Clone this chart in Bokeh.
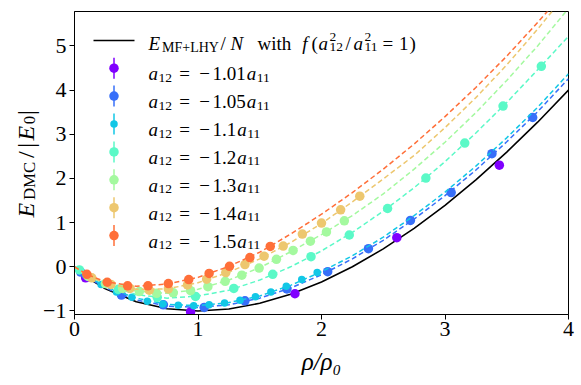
import math
from bokeh.plotting import figure
from bokeh.models import Range1d, Label
from bokeh.layouts import row
from bokeh.embed import file_html
from bokeh.resources import INLINE

# ---------------- data ----------------
TICKS_X = [0, 1, 2, 3, 4]
TICKS_Y = [-1, 0, 1, 2, 3, 4, 5]

# theory curve E_MF+LHY/N (black)
X_FIT = [0, 0.1, 0.25, 0.5, 0.75, 1.0, 1.25, 1.5, 1.75, 2.0, 2.25, 2.5, 2.75, 3.0, 3.25, 3.5, 3.75, 4.0]
E_THEORY = [0, -0.237, -0.5, -0.793, -0.951, -1.0, -0.955, -0.826, -0.620, -0.343, 0.0, 0.406, 0.871, 1.392, 1.968, 2.596, 3.274, 4.0]

# dashed fit curves
FIT_105 = [0, -0.23, -0.48, -0.75, -0.89, -0.92, -0.86, -0.71, -0.48, -0.18, 0.18, 0.60, 1.08, 1.61, 2.19, 2.83, 3.51, 4.26]
FIT_110 = [0, -0.20, -0.45, -0.71, -0.85, -0.88, -0.81, -0.66, -0.42, -0.11, 0.25, 0.67, 1.16, 1.69, 2.28, 2.92, 3.61, 4.37]
FIT_120 = [0, -0.15, -0.39, -0.63, -0.71, -0.66, -0.53, -0.30, 0.00, 0.36, 0.78, 1.26, 1.79, 2.38, 3.03, 3.72, 4.46, 5.22]
FIT_130 = [0, -0.20, -0.38, -0.55, -0.60, -0.51, -0.30, -0.02, 0.34, 0.73, 1.16, 1.65, 2.21, 2.82, 3.49, 4.22, 5.00, 5.85]
FIT_140 = [0, -0.19, -0.37, -0.51, -0.50, -0.36, -0.12, 0.18, 0.55, 0.98, 1.47, 1.99, 2.52, 3.15, 3.83, 4.57, 5.38, 6.24]
FIT_150 = [0, -0.17, -0.34, -0.44, -0.39, -0.24, 0.01, 0.33, 0.74, 1.19, 1.68, 2.21, 2.78, 3.40, 4.06, 4.77, 5.53, 6.32]

# DMC points
P101_X = [0.09, 0.94, 1.785, 2.61, 3.44]
P101_Y = [-0.25, -1.02, -0.61, 0.66, 2.30]
P105_X = [0.05, 0.38, 0.72, 1.05, 1.38, 1.72, 2.05, 2.38, 2.72, 3.05, 3.38, 3.71]
P105_Y = [-0.12, -0.64, -0.86, -0.92, -0.77, -0.50, -0.11, 0.41, 1.05, 1.68, 2.56, 3.38]
P110_X = [0.09, 0.215, 0.34, 0.465, 0.59, 0.715, 0.84, 0.965, 1.09, 1.215, 1.34, 1.465, 1.59, 1.715, 1.84, 1.965]
P110_Y = [-0.19, -0.40, -0.57, -0.69, -0.78, -0.84, -0.87, -0.88, -0.86, -0.82, -0.76, -0.68, -0.57, -0.44, -0.29, -0.13]
P120_X = [0.04, 0.355, 0.67, 0.98, 1.29, 1.605, 1.915, 2.225, 2.535, 2.845, 3.16, 3.47, 3.78]
P120_Y = [-0.07, -0.51, -0.69, -0.67, -0.49, -0.17, 0.23, 0.72, 1.32, 2.01, 2.80, 3.64, 4.54]
P130_X = [0.11, 0.25, 0.39, 0.525, 0.665, 0.80, 0.94, 1.08, 1.22, 1.355, 1.495, 1.635, 1.77, 1.91, 2.04, 2.185]
P130_Y = [-0.22, -0.38, -0.49, -0.56, -0.60, -0.59, -0.54, -0.45, -0.33, -0.19, -0.03, 0.17, 0.37, 0.58, 0.79, 1.04]
P140_X = [0.14, 0.295, 0.45, 0.605, 0.76, 0.915, 1.07, 1.225, 1.38, 1.535, 1.69, 1.845, 2.0, 2.155, 2.31]
P140_Y = [-0.25, -0.40, -0.49, -0.53, -0.50, -0.41, -0.28, -0.13, 0.05, 0.24, 0.47, 0.74, 0.99, 1.29, 1.60]
P150_X = [0.10, 0.265, 0.43, 0.595, 0.76, 0.925, 1.09, 1.255, 1.42, 1.585]
P150_Y = [-0.17, -0.35, -0.43, -0.43, -0.38, -0.29, -0.15, 0.01, 0.21, 0.46]

SERIES_LABELS = ["1.01", "1.05", "1.1", "1.2", "1.3", "1.4", "1.5"]

# ---------------- styles ----------------
COLORS = ["#8000ff", "#376ff9", "#12c7e6", "#5bf9c7", "#a4f99f", "#edc76f", "#ff6f39"]
SIZES = [9.5, 9.5, 7.5, 9.5, 9.5, 9.5, 9.5]
FONT = "Liberation Serif"

series = [
    (P101_X, P101_Y, None),
    (P105_X, P105_Y, FIT_105),
    (P110_X, P110_Y, FIT_110),
    (P120_X, P120_Y, FIT_120),
    (P130_X, P130_Y, FIT_130),
    (P140_X, P140_Y, FIT_140),
    (P150_X, P150_Y, FIT_150),
]

YL_W = 40                 # width of the y-label strip
FW, FH = 494, 303
BL, BT, BR, BB = 33, 11, 14, 63
TOTAL_H = BT + FH + BB

p = figure(frame_width=FW, frame_height=FH,
           min_border_left=BL, min_border_right=BR, min_border_top=BT, min_border_bottom=BB,
           x_range=Range1d(0, 4), y_range=Range1d(-1.08, 5.78),
           output_backend="svg", toolbar_location=None)
# pixel ranges for legend layout (frame-relative, y downward)
p.extra_x_ranges = {"px": Range1d(0, FW)}
p.extra_y_ranges = {"py": Range1d(FH, 0)}

p.grid.visible = False
p.background_fill_color = "white"
p.border_fill_color = "white"
p.outline_line_color = "black"
p.outline_line_width = 1

for ax in (p.xaxis[0], p.yaxis[0]):
    ax.axis_line_color = "black"
    ax.major_tick_line_color = "black"
    ax.major_tick_out = 5
    ax.major_tick_in = 0
    ax.minor_tick_line_color = None
    ax.major_label_text_font = FONT
    ax.major_label_text_font_size = "22px"
    ax.major_label_text_color = "black"
p.xaxis.ticker = TICKS_X
p.yaxis.ticker = TICKS_Y
p.xaxis.major_label_standoff = 2
p.yaxis.major_label_standoff = 3
p.yaxis.major_label_overrides = {t: ("\u2212" + str(abs(t)) if t < 0 else str(t)) for t in TICKS_Y}
p.xaxis.major_label_overrides = {t: str(t) for t in TICKS_X}

p.xaxis.axis_label = "\u03c1/\u03c1\u2080"
p.xaxis.axis_label_text_font = FONT
p.xaxis.axis_label_text_font_size = "25px"
p.xaxis.axis_label_text_font_style = "italic"
p.xaxis.axis_label_text_color = "black"
p.xaxis.axis_label_standoff = 9

# theory line
p.line(X_FIT, E_THEORY, line_color="black", line_width=1.6)

# fits and points
for (sx, sy, fit), c, s in zip(series, COLORS, SIZES):
    if fit is not None:
        p.line(X_FIT, fit, line_color=c, line_width=1.5, line_dash="5 3")
    p.scatter(sx, sy, size=s, fill_color=c, line_color=None)

# ---------------- legend (manual, pixel layout) ----------------
LEG_LINE_X0, LEG_LINE_X1 = 19, 60
LEG_MARK_X = 39.5
LEG_TEXT_X = 75
ROW0_Y = 29
ROW1_Y = 56.7
ROW_DY = 27.9
MAIN = "19px"
SCRIPT = "13.5px"

def lab(fig, text, x, y, size=MAIN, italic=False, angle=0.0, ox=BL, oy=BT):
    fig.add_layout(Label(x=x + ox, y=y + oy, x_units="canvas", y_units="canvas",
                         text=text, text_font=FONT, text_font_size=size,
                         text_font_style="italic" if italic else "normal",
                         text_color="black", text_align="left", text_baseline="alphabetic",
                         angle=angle))

p.line([LEG_LINE_X0, LEG_LINE_X1], [ROW0_Y, ROW0_Y], x_range_name="px", y_range_name="py",
       line_color="black", line_width=1.6)
b0 = ROW0_Y + 2.7
lab(p, "E", 75, b0, italic=True)
lab(p, "MF+LHY", 88.5, b0 + 4, size="14px")
lab(p, "/", 147, b0)
lab(p, "N", 157, b0, italic=True)
lab(p, "with", 184, b0)
lab(p, "f", 228.7, b0, italic=True)
lab(p, "(", 238, b0)
lab(p, "a", 245, b0, italic=True)
lab(p, "2", 256, b0 - 6.5, size=SCRIPT)
lab(p, "12", 256, b0 + 4, size=SCRIPT)
lab(p, "/", 272, b0)
lab(p, "a", 280, b0, italic=True)
lab(p, "2", 291, b0 - 6.5, size=SCRIPT)
lab(p, "11", 291, b0 + 4, size=SCRIPT)
lab(p, "=", 309, b0)
lab(p, "1", 325.5, b0)
lab(p, ")", 336, b0)

for i, (txt, c, s) in enumerate(zip(SERIES_LABELS, COLORS, SIZES)):
    cy = ROW1_Y + ROW_DY * i
    p.segment(x0=[LEG_MARK_X], y0=[cy - 10.5], x1=[LEG_MARK_X], y1=[cy + 10.5],
              x_range_name="px", y_range_name="py", line_color=c, line_width=1.5)
    p.scatter([LEG_MARK_X], [cy], x_range_name="px", y_range_name="py",
              size=s, fill_color=c, line_color=None)
    bl = cy + 5.5
    lab(p, "a", LEG_TEXT_X, bl, italic=True)
    lab(p, "12", LEG_TEXT_X + 10, bl + 4, size=SCRIPT)
    lab(p, "=", LEG_TEXT_X + 30.7, bl)
    lab(p, "\u2212", LEG_TEXT_X + 50.8, bl)
    nx = LEG_TEXT_X + 64
    lab(p, txt, nx, bl)
    ndig = sum(ch.isdigit() for ch in txt)
    ax_ = nx + 9.5 * ndig + 5.75
    lab(p, "a", ax_, bl, italic=True)
    lab(p, "11", ax_ + 10, bl + 4, size=SCRIPT)

# ---------------- y-axis label strip ----------------
yl = figure(frame_width=YL_W, frame_height=TOTAL_H, min_border=0,
            x_axis_location=None, y_axis_location=None,
            x_range=Range1d(0, 1), y_range=Range1d(0, 1),
            output_backend="svg", toolbar_location=None)
yl.grid.visible = False
yl.outline_line_color = None
yl.background_fill_color = "white"
yl.border_fill_color = "white"

BIG = "24px"
SUB = "16.8px"
up = math.pi / 2
YB = 25.7   # baseline x inside the strip
for text, y, size, it, dx in [
    ("E", 216.9, BIG, True, 0),
    ("DMC", 199.6, SUB, False, 3),
    ("/", 157.6, BIG, False, 0),
    ("|", 147.3, BIG, False, 0),
    ("E", 140.1, BIG, True, 0),
    ("0", 123.8, SUB, False, 3),
    ("|", 114.4, BIG, False, 0),
]:
    lab(yl, text, YB + dx, y, size=size, italic=it, angle=up, ox=0, oy=0)

layout = row(yl, p, spacing=0)
open("out.html", "w").write(file_html(layout, INLINE))
